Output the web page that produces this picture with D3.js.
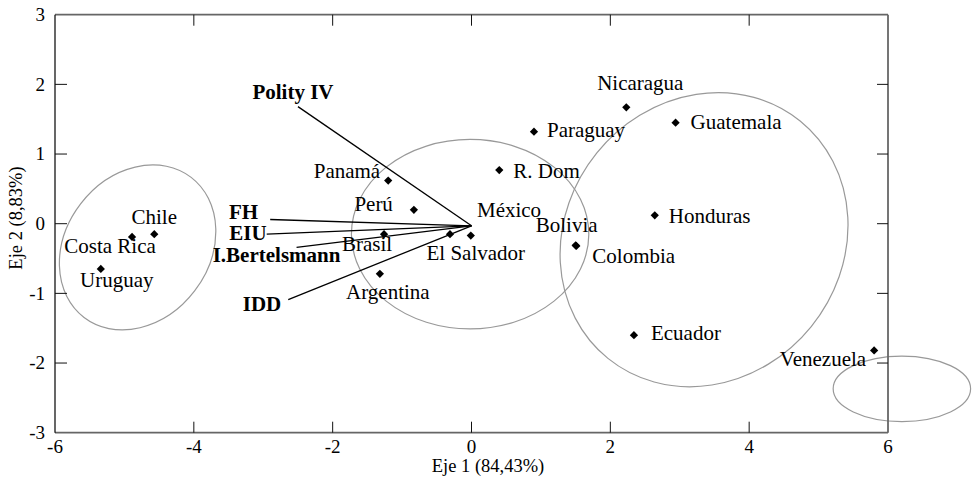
<!DOCTYPE html>
<html>
<head>
<meta charset="utf-8">
<script src="https://cdn.jsdelivr.net/npm/d3@7"></script>
<style>
  body { margin: 0; background: #fff; }
  text { font-family: "Liberation Serif", "Times New Roman", serif; }
</style>
</head>
<body>
<div id="chart"></div>
<script>
// countries (biplot scores)
const countries = ["Chile", "Costa Rica", "Uruguay", "Panamá", "Perú", "Brasil", "Argentina",
  "México", "El Salvador", "R. Dom", "Paraguay", "Nicaragua", "Guatemala", "Honduras",
  "Bolivia", "Colombia", "Ecuador", "Venezuela"];
const eje1 = [-4.57, -4.89, -5.34, -1.20, -0.83, -1.26, -1.32, -0.31, -0.01, 0.40, 0.90, 2.23, 2.94, 2.64, 1.50, 1.51, 2.34, 5.80];
const eje2 = [-0.15, -0.19, -0.65, 0.62, 0.20, -0.15, -0.72, -0.15, -0.17, 0.77, 1.32, 1.67, 1.45, 0.12, -0.31, -0.32, -1.60, -1.82];

// indices (vectors)
const indices = ["Polity IV", "FH", "EIU", "I.Bertelsmann", "IDD"];
const vecX = [-2.50, -2.90, -2.95, -2.52, -2.64];
const vecY = [1.68, 0.06, -0.15, -0.34, -1.09];
const vecOrigin = [0, -0.03];

// group ellipses: center x, center y, radius x, radius y, angle (deg)
const ellCx = [-4.81, -0.02, 3.35, 6.20];
const ellCy = [-0.34, -0.15, -0.23, -2.37];
const ellRx = [1.27, 1.71, 2.20, 0.99];
const ellRy = [1.03, 1.36, 1.98, 0.47];
const ellAngle = [52.6, 0, 51, 0];

const xTicks = [-6, -4, -2, 0, 2, 4, 6];
const yTicks = [-3, -2, -1, 0, 1, 2, 3];

// label placement (pixels relative to the point)
const labelPos = {
  "Chile": [0, -10, "middle"], "Costa Rica": [-22, 16, "middle"], "Uruguay": [16, 18, "middle"],
  "Panamá": [-8, -3, "end"], "Perú": [-21, 1, "end"], "Brasil": [-17, 17, "middle"],
  "Argentina": [8, 25, "middle"], "México": [27, -17, "start"], "El Salvador": [5, 24, "middle"],
  "R. Dom": [14, 8, "start"], "Paraguay": [13, 5, "start"], "Nicaragua": [14, -17, "middle"],
  "Guatemala": [15, 6, "start"], "Honduras": [14, 8, "start"], "Bolivia": [22, -13, "end"],
  "Colombia": [16, 17, "start"], "Ecuador": [17, 5, "start"], "Venezuela": [-8, 16, "end"]
};
const vecLabelPos = {
  "Polity IV": [-5, -8, "middle"], "FH": [-12, -1, "end"], "EIU": [0, 6, "end"],
  "I.Bertelsmann": [-20, 15, "middle"], "IDD": [-7, 11, "end"]
};

const width = 975, height = 487;
const x = d3.scaleLinear().domain([-6, 6]).range([55, 888]);
const y = d3.scaleLinear().domain([-3, 3]).range([432.7, 14.7]);

const svg = d3.select("#chart").append("svg")
  .attr("width", width).attr("height", height);

// ellipses
svg.append("g").selectAll("ellipse")
  .data(ellCx.map((d, i) => i))
  .enter().append("ellipse")
  .attr("transform", i => `translate(${x(ellCx[i])},${y(ellCy[i])}) rotate(${-ellAngle[i]})`)
  .attr("rx", i => x(ellRx[i]) - x(0))
  .attr("ry", i => y(0) - y(ellRy[i]))
  .attr("fill", "none")
  .attr("stroke", "#999")
  .attr("stroke-width", 1.2);

// frame
const [x0, x1] = x.range(), [y0, y1] = y.range();
svg.append("line").attr("x1", x0).attr("x2", x1).attr("y1", y1).attr("y2", y1)
  .attr("stroke", "#666").attr("stroke-width", 1.8);
svg.append("line").attr("x1", x0).attr("x2", x1).attr("y1", y0).attr("y2", y0)
  .attr("stroke", "#666").attr("stroke-width", 1.8);
svg.append("line").attr("x1", x1).attr("x2", x1).attr("y1", y0).attr("y2", y1)
  .attr("stroke", "#666").attr("stroke-width", 1.8);
svg.append("line").attr("x1", x0).attr("x2", x0).attr("y1", y0).attr("y2", y1)
  .attr("stroke", "#000").attr("stroke-width", 1.2);

// ticks (inward)
const innerX = xTicks.slice(1, -1), innerY = yTicks.slice(1, -1);
const tickG = svg.append("g").attr("stroke", "#111").attr("stroke-width", 1);
tickG.selectAll(".tb").data(innerX).enter().append("line")
  .attr("x1", d => x(d)).attr("x2", d => x(d)).attr("y1", y0).attr("y2", y0 - 11);
tickG.selectAll(".tt").data(innerX).enter().append("line")
  .attr("x1", d => x(d)).attr("x2", d => x(d)).attr("y1", y1).attr("y2", y1 + 11);
tickG.selectAll(".tl").data(innerY).enter().append("line")
  .attr("y1", d => y(d)).attr("y2", d => y(d)).attr("x1", x0).attr("x2", x0 + 12);
tickG.selectAll(".tr").data(innerY).enter().append("line")
  .attr("y1", d => y(d)).attr("y2", d => y(d)).attr("x1", x1).attr("x2", x1 - 11);

// tick labels
svg.append("g").selectAll("text").data(xTicks).enter().append("text")
  .attr("x", d => x(d)).attr("y", 453)
  .attr("text-anchor", "middle").attr("font-size", 19)
  .text(d => d);
svg.append("g").selectAll("text").data(yTicks).enter().append("text")
  .attr("x", 45).attr("y", d => y(d)).attr("dy", "0.33em")
  .attr("text-anchor", "end").attr("font-size", 19)
  .text(d => d);

// axis titles
svg.append("text").attr("x", 488).attr("y", 472)
  .attr("text-anchor", "middle").attr("font-size", 18.5)
  .text("Eje 1 (84,43%)");
svg.append("text").attr("transform", "translate(22,218) rotate(-90)")
  .attr("text-anchor", "middle").attr("font-size", 18.5)
  .text("Eje 2 (8,83%)");

// vectors
svg.append("g").selectAll("line").data(indices).enter().append("line")
  .attr("x1", x(vecOrigin[0])).attr("y1", y(vecOrigin[1]))
  .attr("x2", (d, i) => x(vecX[i])).attr("y2", (d, i) => y(vecY[i]))
  .attr("stroke", "#000").attr("stroke-width", 1.3);
svg.append("g").selectAll("text").data(indices).enter().append("text")
  .attr("x", (d, i) => x(vecX[i]) + vecLabelPos[d][0])
  .attr("y", (d, i) => y(vecY[i]) + vecLabelPos[d][1])
  .attr("text-anchor", d => vecLabelPos[d][2])
  .attr("font-size", 21).attr("font-weight", "bold")
  .text(d => d);

// points
svg.append("g").selectAll("path").data(countries).enter().append("path")
  .attr("d", d3.symbol().type(d3.symbolSquare).size(34))
  .attr("transform", (d, i) => `translate(${x(eje1[i])},${y(eje2[i])}) rotate(45)`)
  .attr("fill", "#000");
svg.append("g").selectAll("text").data(countries).enter().append("text")
  .attr("x", (d, i) => x(eje1[i]) + labelPos[d][0])
  .attr("y", (d, i) => y(eje2[i]) + labelPos[d][1])
  .attr("text-anchor", d => labelPos[d][2])
  .attr("font-size", 21)
  .text(d => d);
</script>
</body>
</html>
